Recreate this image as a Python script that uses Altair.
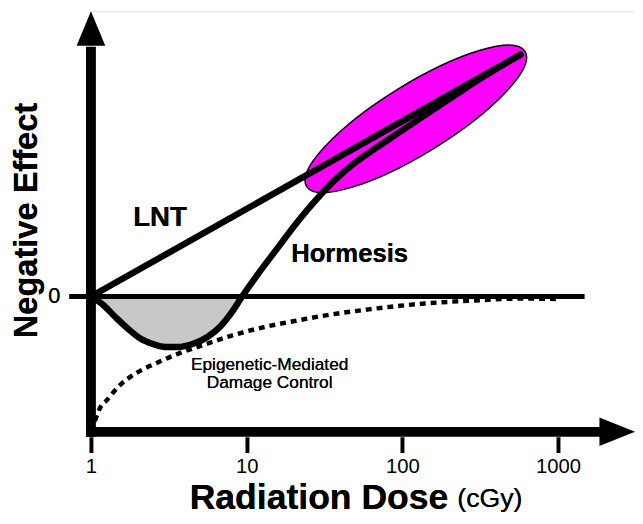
import altair as alt
import pandas as pd

# ---- data (x = dose in cGy, log scale; y = effect, arbitrary units, 0 = baseline)
lnt_x = [1, 573]
lnt_y = [0, 24.5]

horm_x = [1, 1.19, 1.44, 1.74, 2.1, 2.5, 3.0, 3.6, 4.5, 5.6, 6.8, 8.1, 9.35,
          11.6, 15.6, 20.8, 27.9, 37.4, 50.1, 67, 89.8, 139, 216, 334, 573]
horm_y = [0, -0.8, -2.1, -3.3, -4.3, -4.8, -5.1, -5.1, -4.8, -4.1, -3.0, -1.5, 0,
          2.1, 4.8, 7.4, 9.8, 11.9, 13.6, 15.0, 16.35, 18.35, 20.35, 22.3, 24.5]

epi_x = [1.06, 1.17, 1.245, 1.505, 1.93, 2.58, 3.61, 5.06, 7.84, 12.9, 20, 32.3,
         60.5, 139, 289, 599, 998]
epi_y = [-12.6, -11.0, -10.6, -9.1, -7.8, -6.8, -5.8, -5.0, -4.0, -3.1, -2.5, -1.9,
         -1.3, -0.7, -0.4, -0.2, -0.25]

ellipse_center = [122, 18.0]   # dose, effect

zero_line_x = [0.725, 1480]
x_ticks = [1, 10, 100, 1000]

X_DOMAIN = [1, 3119]
Y_DOMAIN = [-13.7, 28.9]
FONT = "Liberation Sans"

xs = alt.Scale(type="log", domain=X_DOMAIN, nice=False)
ys = alt.Scale(domain=Y_DOMAIN, nice=False, zero=False)

X_AXIS = alt.Axis(values=x_ticks, title=None, domain=False, grid=False,
                  tickColor="black", tickWidth=4, tickSize=16, offset=5,
                  labelFont=FONT, labelFontSize=20.5, labelColor="black",
                  labelPadding=4, labelFlush=False, format="d")


def X(field):
    return alt.X(field, type="quantitative", scale=xs, axis=X_AXIS)


def Y(field):
    return alt.Y(field, type="quantitative", scale=ys, axis=None)


lnt_df = pd.DataFrame({"x": lnt_x, "y": lnt_y})
horm_df = pd.DataFrame({"x": horm_x, "y": horm_y})
fill_df = horm_df[horm_df["x"] <= 9.35].assign(y0=0.0)
epi_df = pd.DataFrame({"x": epi_x, "y": epi_y})
ell_df = pd.DataFrame({"x": [ellipse_center[0]], "y": [ellipse_center[1]]})
zero_df = pd.DataFrame({"x": [zero_line_x[0]], "x2": [zero_line_x[1]], "y": [0.0]})

# axis shafts (in data units of the chart frame)
yshaft_df = pd.DataFrame({"x": [1], "y": [-14.2], "y2": [25.3]})
xshaft_df = pd.DataFrame({"x": [0.93], "x2": [1926], "y": [-13.7]})
yarrow_df = pd.DataFrame({"x": [1], "y": [Y_DOMAIN[1]]})
xarrow_df = pd.DataFrame({"x": [X_DOMAIN[1]], "y": [-13.7]})

ELLIPSE = "M-1,0 A1,0.27 0 1,0 1,0 A1,0.27 0 1,0 -1,0 Z"
UP = "M0,0 L0.83,2 L-0.83,2 Z"
RIGHT = "M0,0 L-2,-0.8 L-2,0.8 Z"

ellipse = alt.Chart(ell_df).mark_point(
    shape=ELLIPSE, size=67600, angle=328.3, filled=True, fill="#ff00ff",
    fillOpacity=1, opacity=1, stroke="black", strokeWidth=1.5
).encode(x=X("x"), y=Y("y"))

fill = alt.Chart(fill_df).mark_area(color="#c8c8c8", interpolate="monotone", opacity=1).encode(
    x=X("x"), y=Y("y"), y2="y0")

zero = alt.Chart(zero_df).mark_rule(color="black", strokeWidth=5, strokeCap="butt").encode(
    x=X("x"), x2="x2", y=Y("y"))

epi = alt.Chart(epi_df).mark_line(color="black", strokeWidth=4.5, strokeDash=[6, 5],
                                  interpolate="monotone").encode(x=X("x"), y=Y("y"))

lnt = alt.Chart(lnt_df).mark_line(color="black", strokeWidth=6.5, strokeCap="round").encode(
    x=X("x"), y=Y("y"))

horm = alt.Chart(horm_df).mark_line(color="black", strokeWidth=6.5, interpolate="monotone",
                                    strokeCap="round", strokeJoin="round").encode(x=X("x"), y=Y("y"))

yshaft = alt.Chart(yshaft_df).mark_rule(color="black", strokeWidth=10, strokeCap="butt").encode(
    x=X("x"), y=Y("y"), y2="y2")
xshaft = alt.Chart(xshaft_df).mark_rule(color="black", strokeWidth=10, strokeCap="butt").encode(
    x=X("x"), x2="x2", y=Y("y"))
yarrow = alt.Chart(yarrow_df).mark_point(shape=UP, size=1225, filled=True, color="black",
                                         opacity=1, strokeWidth=0).encode(x=X("x"), y=Y("y"))
xarrow = alt.Chart(xarrow_df).mark_point(shape=RIGHT, size=1296, filled=True, color="black",
                                         opacity=1, strokeWidth=0).encode(x=X("x"), y=Y("y"))

base = alt.Chart(lnt_df)


def label(text, px, py, size, bold=False, align="center", angle=0, baseline="middle"):
    kw = dict(text=text, font=FONT, fontSize=size, fontWeight="bold" if bold else "normal",
              color="black", align=align, baseline=baseline)
    if angle:
        kw["angle"] = angle
    return base.mark_text(**kw).encode(x=alt.value(px), y=alt.value(py))


texts = [
    label("LNT", 70, 210, 28, bold=True),
    label("Hormesis", 262, 246, 26, bold=True),
    label("Epigenetic-Mediated", 181, 358, 17.5),
    label("Damage Control", 181, 377, 17.5),
    label("0", -37, 289, 22),
    label("Radiation Dose", 100, 504, 36, bold=True, align="left", baseline="alphabetic"),
    label("(cGy)", 371, 502, 27, align="left", baseline="alphabetic"),
    label("Negative Effect", -65, 212, 33, bold=True, angle=270),
]

chart = alt.layer(ellipse, fill, zero, epi, lnt, horm, yshaft, xshaft, yarrow, xarrow, *texts).properties(
    width=551, height=426,
    autosize=alt.AutoSizeParams(type="none"),
    padding={"left": 84, "top": 0, "right": 0, "bottom": 82},
).configure_view(stroke=None).configure(background="white")

chart.save("out.html", embed_options={"renderer": "svg", "actions": False})
